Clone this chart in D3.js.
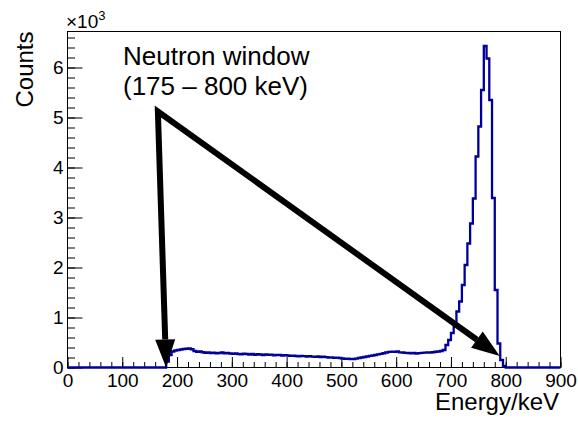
<!DOCTYPE html>
<html>
<head>
<script src="https://cdnjs.cloudflare.com/ajax/libs/d3/7.8.5/d3.min.js"></script>
<style>
  body { margin: 0; background: #fff; }
  svg text { font-family: "Liberation Sans", Arial, Helvetica, sans-serif; fill: #000; }
</style>
</head>
<body>
<svg id="chart" width="578" height="421"></svg>
<script>
// histogram: 180 bins of 5 keV from 0 to 900 keV (counts per bin)
const binWidth = 5;
const counts = [
  0, 0, 0, 0, 0, 0, 0, 0, 0, 0, 0, 0, 0, 0, 0, 0, 0, 0, 0, 0,                                  // 0-95
  0, 0, 0, 0, 0, 0, 0, 0, 0, 0, 0, 0, 0, 0, 0, 0, 120, 250, 320, 340,                          // 100-195
  350, 360, 370, 375, 380, 365, 330, 315, 320, 305, 295, 300, 290, 295, 285, 290, 300, 285, 290, 280, // 200-295
  275, 280, 270, 265, 275, 270, 260, 270, 255, 265, 260, 250, 262, 255, 258, 245, 252, 250, 240, 248, // 300-395
  240, 232, 238, 230, 222, 230, 228, 220, 226, 218, 212, 220, 210, 215, 208, 200, 202, 192, 198, 190, // 400-495
  180, 172, 178, 168, 170, 178, 190, 200, 210, 220, 232, 240, 250, 262, 272, 285, 300, 312, 318, 312, // 500-595
  320, 302, 300, 292, 290, 282, 290, 280, 288, 292, 298, 300, 300, 305, 315, 320, 330, 350, 450, 550, // 600-695
  690, 820, 1120, 1320, 1650, 2050, 2480, 2880, 3380, 4220, 4820, 5550, 6430, 6180, 5350, 3390, 1550, 480, 150, 30, // 700-795
  0, 0, 0, 0, 0, 0, 0, 0, 0, 0, 0, 0, 0, 0, 0, 0, 0, 0, 0, 0                                   // 800-895
];

const xTicks = [0, 100, 200, 300, 400, 500, 600, 700, 800, 900];
const xTickLabels = ["0", "100", "200", "300", "400", "500", "600", "700", "800", "900"];
const yTicks = [0, 1000, 2000, 3000, 4000, 5000, 6000];
const yTickLabels = ["0", "1", "2", "3", "4", "5", "6"];

const xTitle = "Energy/keV";
const yTitle = "Counts";
const noteLines = ["Neutron window", "(175 \u2013 800 keV)"];

// arrows: common start and the two tips, in (keV, counts)
const arrowFrom = [165, 5120];
const arrowTips = [[180, 0], [789, 230]];

const svg = d3.select("#chart");
const padL = 67.5, padR = 560.5, padT = 31.5, padB = 367.5;

const x = d3.scaleLinear().domain([0, 900]).range([padL, padR]);
const y = d3.scaleLinear().domain([0, 6720]).range([padB, padT]);

// frame
svg.append("rect")
    .attr("x", padL).attr("y", padT)
    .attr("width", padR - padL).attr("height", padB - padT)
    .attr("fill", "none").attr("stroke", "#000").attr("stroke-width", 1);

// x axis: minor ticks then major ticks (ROOT style, inward)
svg.append("g")
    .attr("transform", `translate(0,${padB})`)
    .call(d3.axisBottom(x).tickValues(d3.range(0, 901, 20)).tickSize(-5.5).tickFormat(""))
    .call(g => g.select(".domain").remove());
svg.append("g")
    .attr("transform", `translate(0,${padB})`)
    .call(d3.axisBottom(x).tickValues(xTicks).tickSizeInner(-10.5).tickSizeOuter(0).tickPadding(6)
        .tickFormat((d, i) => xTickLabels[i]))
    .call(g => g.select(".domain").remove())
    .call(g => g.selectAll("text").attr("font-size", 19).attr("font-family", null));

// y axis
svg.append("g")
    .attr("transform", `translate(${padL},0)`)
    .call(d3.axisLeft(y).tickValues(d3.range(0, 6721, 200)).tickSize(-7.5).tickFormat(""))
    .call(g => g.select(".domain").remove());
svg.append("g")
    .attr("transform", `translate(${padL},0)`)
    .call(d3.axisLeft(y).tickValues(yTicks).tickSizeInner(-15).tickSizeOuter(0).tickPadding(4)
        .tickFormat((d, i) => yTickLabels[i]))
    .call(g => g.select(".domain").remove())
    .call(g => g.selectAll("text").attr("font-size", 19).attr("font-family", null));

svg.selectAll(".tick line").attr("stroke", "#000");

// exponent label
const expo = svg.append("text").attr("x", 66).attr("y", 28).attr("font-size", 19);
expo.append("tspan").text("\u00d710");
expo.append("tspan").attr("dy", -8).attr("font-size", 13).text("3");

// axis titles
svg.append("text")
    .attr("x", 559).attr("y", 410)
    .attr("text-anchor", "end").attr("font-size", 24)
    .text(xTitle);
svg.append("text")
    .attr("transform", `translate(33,${padT}) rotate(-90)`)
    .attr("text-anchor", "end").attr("font-size", 24)
    .text(yTitle);

// histogram as step line
const pts = counts.map((c, i) => [i * binWidth, c]);
pts.push([counts.length * binWidth, counts[counts.length - 1]]);
const step = d3.line()
    .x(d => x(d[0]))
    .y(d => y(d[1]))
    .curve(d3.curveStepAfter);
svg.append("path")
    .datum(pts)
    .attr("d", step)
    .attr("fill", "none")
    .attr("stroke", "#000099")
    .attr("stroke-width", 2.3);

// annotation text
svg.selectAll("text.note")
    .data(noteLines)
    .enter().append("text")
    .attr("class", "note")
    .attr("x", 123)
    .attr("y", (d, i) => 65 + i * 30)
    .attr("font-size", 26)
    .text(d => d);

// arrows
const headLen = 28, headHalf = 10;
const p0 = [x(arrowFrom[0]), y(arrowFrom[1])];
const heads = arrowTips.map(t => {
    const tip = [x(t[0]), y(t[1])];
    const dx = tip[0] - p0[0], dy = tip[1] - p0[1];
    const len = Math.hypot(dx, dy);
    const ux = dx / len, uy = dy / len;
    const base = [tip[0] - ux * headLen, tip[1] - uy * headLen];
    return {
        tip: tip,
        base: base,
        tri: [tip,
              [base[0] - uy * headHalf, base[1] + ux * headHalf],
              [base[0] + uy * headHalf, base[1] - ux * headHalf]]
    };
});
svg.append("path")
    .attr("d", d3.line()([heads[0].base, p0, heads[1].base]))
    .attr("fill", "none")
    .attr("stroke", "#000")
    .attr("stroke-width", 6)
    .attr("stroke-linejoin", "miter");
svg.selectAll("polygon.head")
    .data(heads)
    .enter().append("polygon")
    .attr("class", "head")
    .attr("points", d => d.tri.map(p => p.join(",")).join(" "))
    .attr("fill", "#000");
</script>
</body>
</html>
